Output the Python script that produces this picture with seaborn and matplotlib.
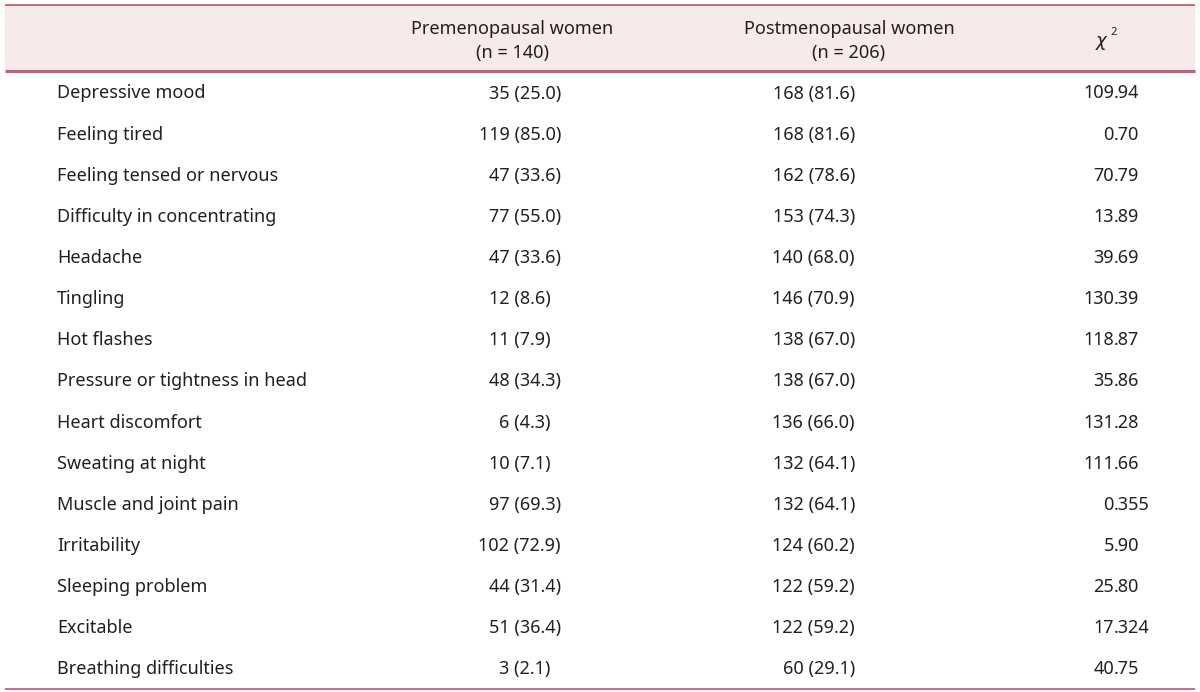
import matplotlib.pyplot as plt
import seaborn as sns

# table content
symptoms = [
    "Depressive mood", "Feeling tired", "Feeling tensed or nervous",
    "Difficulty in concentrating", "Headache", "Tingling", "Hot flashes",
    "Pressure or tightness in head", "Heart discomfort", "Sweating at night",
    "Muscle and joint pain", "Irritability", "Sleeping problem", "Excitable",
    "Breathing difficulties",
]
pre_n = [35, 119, 47, 77, 47, 12, 11, 48, 6, 10, 97, 102, 44, 51, 3]
pre_pct = ["25.0", "85.0", "33.6", "55.0", "33.6", "8.6", "7.9", "34.3", "4.3",
           "7.1", "69.3", "72.9", "31.4", "36.4", "2.1"]
post_n = [168, 168, 162, 153, 140, 146, 138, 138, 136, 132, 132, 124, 122, 122, 60]
post_pct = ["81.6", "81.6", "78.6", "74.3", "68.0", "70.9", "67.0", "67.0", "66.0",
            "64.1", "64.1", "60.2", "59.2", "59.2", "29.1"]
chi2 = ["109.94", "0.70", "70.79", "13.89", "39.69", "130.39", "118.87", "35.86",
        "131.28", "111.66", "0.355", "5.90", "25.80", "17.324", "40.75"]
headers = ["Premenopausal women\n(n = 140)", "Postmenopausal women\n(n = 206)"]

sns.set_theme(style="white")
plt.rcParams['font.family'] = ['Noto Sans', 'DejaVu Sans']

TXT = "#231f20"
RULE = "#c4607a"
HEAD_BG = "#f6eaea"
FS = 13

fig = plt.figure(figsize=(12, 6.92), dpi=100)
ax = fig.add_axes([0, 0, 1, 1])
ax.set_xlim(0, 1200)
ax.set_ylim(692, 0)
ax.axis("off")

# header band and rules
ax.axhspan(5, 70, xmin=5 / 1200, xmax=1195 / 1200, color=HEAD_BG, lw=0)
ax.hlines(5, 5, 1195, color=RULE, lw=1.3)
ax.hlines(70.5, 5, 1195, color=RULE, lw=2.2)
ax.hlines(688.5, 5, 1195, color=RULE, lw=1.3)

# header text
for x, h in zip([512, 849], headers):
    top, bottom = h.split("\n")
    ax.text(x, 34, top, ha="center", va="baseline", fontsize=FS, color=TXT)
    ax.text(x, 58, bottom, ha="center", va="baseline", fontsize=FS, color=TXT)
ax.text(1102, 46, r"$\chi$", ha="center", va="baseline", fontsize=FS, color=TXT)
ax.text(1110, 35, "2", ha="left", va="baseline", fontsize=8, color=TXT)

# body rows
row_y0, row_step = 92, 41.14
for i, name in enumerate(symptoms):
    base = row_y0 + i * row_step + 6.5
    ax.text(57, base, name, ha="left", va="baseline", fontsize=FS, color=TXT)

    pad = "\u2007" if float(pre_pct[i]) < 10 else ""
    ax.text(561, base, f"{pre_n[i]} ({pre_pct[i]}){pad}", ha="right",
            va="baseline", fontsize=FS, color=TXT)
    ax.text(855, base, f"{post_n[i]} ({post_pct[i]})", ha="right",
            va="baseline", fontsize=FS, color=TXT)

    # chi-square aligned on the decimal point
    whole, frac = chi2[i].split(".")
    ax.text(1114, base, whole, ha="right", va="baseline", fontsize=FS, color=TXT)
    ax.text(1114, base, "." + frac, ha="left", va="baseline", fontsize=FS, color=TXT)

fig.savefig("out.png", dpi=100)
